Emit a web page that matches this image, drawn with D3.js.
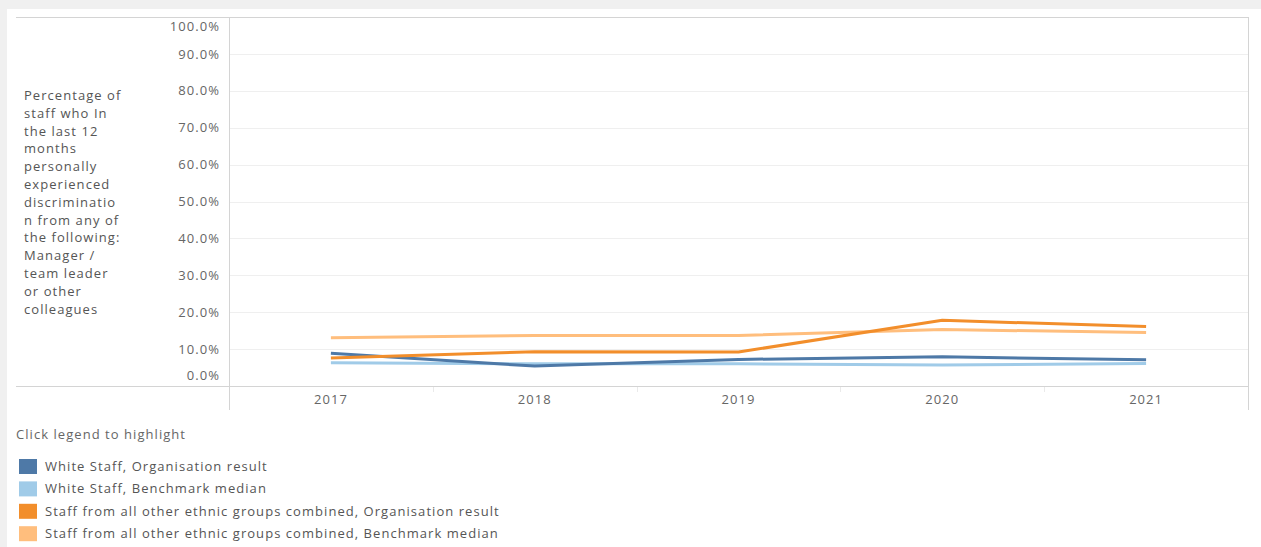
<!DOCTYPE html>
<html><head><meta charset="utf-8">
<script src="https://cdn.jsdelivr.net/npm/d3@7"></script>
<style>
html,body{margin:0;padding:0;background:#f0f0f0;}
svg{display:block;}
text{font-family:"Open Sans",sans-serif;letter-spacing:1.05px;}
</style></head>
<body>
<svg id="chart" width="1261" height="547"></svg>
<script>
const years = ["2017","2018","2019","2020","2021"];
const seriesNames = [
  "White Staff, Organisation result",
  "White Staff, Benchmark median",
  "Staff from all other ethnic groups combined, Organisation result",
  "Staff from all other ethnic groups combined, Benchmark median"
];
const whiteOrg   = [0.089, 0.054, 0.072, 0.079, 0.071];
const whiteBench = [0.063, 0.060, 0.060, 0.057, 0.061];
const otherOrg   = [0.076, 0.093, 0.092, 0.178, 0.161];
const otherBench = [0.131, 0.137, 0.137, 0.153, 0.145];
const colors = ["#4e79a7","#a0cbe8","#f28e2b","#ffbe7d"];
const yTicks = [0,0.1,0.2,0.3,0.4,0.5,0.6,0.7,0.8,0.9,1.0];
const yTitleLines = ["Percentage of","staff who In","the last 12","months","personally","experienced","discriminatio","n from any of","the following:","Manager /","team leader","or other","colleagues"];
const legendTitle = "Click legend to highlight";

const allSeries = [whiteOrg, whiteBench, otherOrg, otherBench];
const svg = d3.select("#chart");
svg.append("rect").attr("x",7).attr("y",9).attr("width",1254).attr("height",538).attr("fill","#fff");

const plot = {left:229, right:1248, top:17, bottom:386};
const x = d3.scaleBand().domain(years).range([plot.left, plot.right]).paddingInner(0).paddingOuter(0);
const y = d3.scaleLinear().domain([0,1]).range([plot.bottom, plot.top]);

// gridlines
svg.append("g").selectAll("line").data(yTicks.filter(d=>d>0 && d<1)).join("line")
  .attr("x1",plot.left).attr("x2",plot.right)
  .attr("y1",d=>Math.round(y(d))+0.5).attr("y2",d=>Math.round(y(d))+0.5)
  .attr("stroke","#efefef").attr("stroke-width",1);

// borders
const bc = "#d4d4d4";
svg.append("line").attr("x1",16).attr("x2",plot.right).attr("y1",plot.top+0.5).attr("y2",plot.top+0.5).attr("stroke",bc);
svg.append("line").attr("x1",16).attr("x2",plot.right).attr("y1",plot.bottom+0.5).attr("y2",plot.bottom+0.5).attr("stroke",bc);
svg.append("line").attr("x1",plot.left+0.5).attr("x2",plot.left+0.5).attr("y1",plot.top).attr("y2",410).attr("stroke",bc);
svg.append("line").attr("x1",plot.right+0.5).attr("x2",plot.right+0.5).attr("y1",plot.top).attr("y2",410).attr("stroke",bc);

// x band separators
svg.append("g").selectAll("line").data(years.slice(1)).join("line")
  .attr("x1",d=>Math.round(x(d))+0.5).attr("x2",d=>Math.round(x(d))+0.5)
  .attr("y1",plot.bottom+1).attr("y2",plot.bottom+6).attr("stroke","#eaeaea");

// y axis labels
const yAxis = d3.axisLeft(y).tickValues(yTicks).tickFormat(d3.format(".1%")).tickSize(0).tickPadding(9);
const yg = svg.append("g").attr("transform",`translate(${plot.left},0)`).call(yAxis);
yg.select(".domain").remove();
yg.selectAll("text").attr("fill","#666").attr("font-size","13px")
  .attr("dy",d=> d===0 ? "-0.48em" : (d===1 ? "1.05em" : "0.32em"));

// x axis labels
const xAxis = d3.axisBottom(x).tickSize(0).tickPadding(9);
const xg = svg.append("g").attr("transform",`translate(0,${plot.bottom})`).call(xAxis);
xg.select(".domain").remove();
xg.selectAll("text").attr("fill","#666").attr("font-size","13px");

// y title
svg.append("text").attr("x",24).attr("y",100).attr("fill","#555").attr("font-size","13px")
  .selectAll("tspan").data(yTitleLines).join("tspan")
  .attr("x",24).attr("dy",(d,i)=> i===0 ? 0 : 17.8).text(d=>d);

// lines
const line = d3.line().x((d,i)=>x(years[i])+x.bandwidth()/2).y(d=>y(d));
const order = [1,3,0,2];
svg.append("g").selectAll("path").data(order).join("path")
  .attr("d",i=>line(allSeries[i])).attr("fill","none")
  .attr("stroke",i=>colors[i]).attr("stroke-width",3).attr("stroke-linejoin","round");

// legend
svg.append("text").attr("x",16).attr("y",439).attr("fill","#666").attr("font-size","13px").text(legendTitle);
const lg = svg.append("g").selectAll("g").data(seriesNames).join("g")
  .attr("transform",(d,i)=>`translate(19,${459 + i*22.4})`);
lg.append("rect").attr("width",18).attr("height",15).attr("fill",(d,i)=>colors[i]);
lg.append("text").attr("x",26).attr("y",12).attr("fill","#555").attr("font-size","13px").text(d=>d);
</script>
</body></html>
